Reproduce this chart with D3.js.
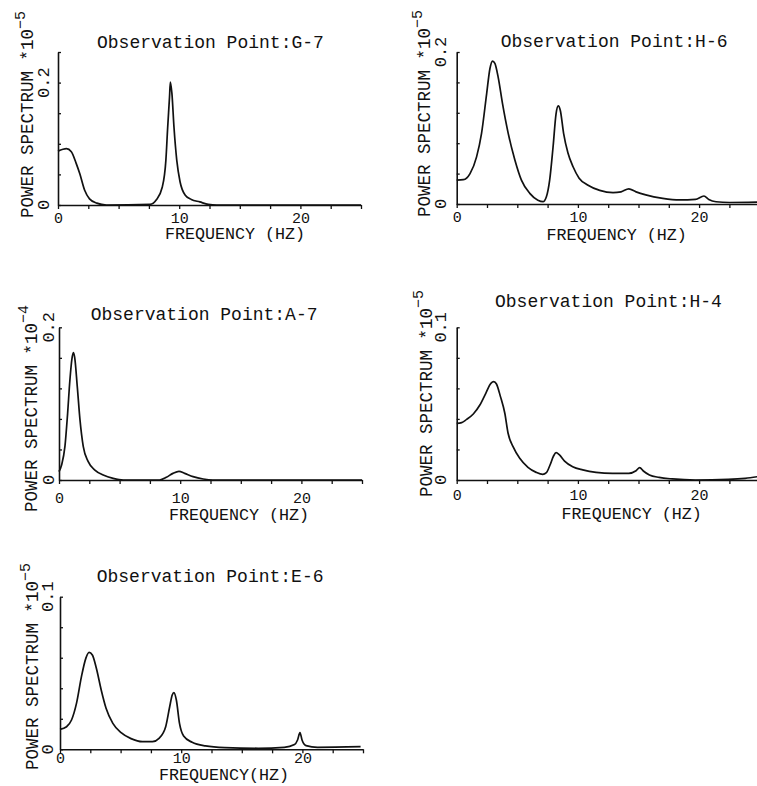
<!DOCTYPE html>
<html>
<head>
<meta charset="utf-8">
<script src="https://cdn.jsdelivr.net/npm/d3@7"></script>
<style>
  body { margin: 0; background: #fff; }
  text { font-family: "Liberation Mono", "Courier New", monospace; fill: #111; }
</style>
</head>
<body>
<div id="spectra"></div>
<script>
//------------------ DATA ------------------//
const titles = ["Observation Point:G-7", "Observation Point:H-6", "Observation Point:A-7",
                "Observation Point:H-4", "Observation Point:E-6"];
const exponents = ["-5", "-5", "-4", "-5", "-5"];
const xLabels = ["FREQUENCY (HZ)", "FREQUENCY (HZ)", "FREQUENCY (HZ)", "FREQUENCY (HZ)", "FREQUENCY(HZ)"];
const yMaxes = [0.25, 0.2, 0.2, 0.1, 0.1];
const yTickSteps = [0.05, 0.04, 0.04, 0.02, 0.02];
const yTickLabels = [[0, 0.2], [0, 0.2], [0, 0.2], [0, 0.1], [0, 0.1]];
const xTicks = [0, 2.5, 5, 7.5, 10, 12.5, 15, 17.5, 20, 22.5, 25];
const xTickLabels = [0, 10, 20];

// G-7
const g7Freq  = [0, 0.7, 1.1, 1.5, 1.8, 2.2, 2.6, 3.2, 4.0, 7.6, 8.1, 8.6, 8.9, 9.05, 9.2, 9.27, 9.4, 9.57, 9.8, 10.07, 10.5, 11.0, 11.7, 12.4, 13.1, 25];
const g7Power = [0.088, 0.092, 0.087, 0.068, 0.051, 0.024, 0.010, 0.003, 0, 0.001, 0.008, 0.029, 0.073, 0.127, 0.176, 0.201, 0.182, 0.127, 0.073, 0.038, 0.016, 0.009, 0.005, 0.001, 0, 0];

// H-6
const h6Freq  = [0, 0.55, 1.1, 1.64, 2.05, 2.47, 2.74, 2.96, 3.15, 3.42, 3.78, 4.25, 4.8, 5.34, 6.03, 6.7, 7.12, 7.4, 7.67, 7.95, 8.2, 8.38, 8.55, 8.82, 9.18, 9.6, 10.1, 10.8, 11.8, 12.9, 13.56, 14.2, 14.8, 15.6, 17.0, 18.4, 19.7, 20.4, 20.8, 21.4, 22.5, 25];
const h6Power = [0.0315, 0.032, 0.040, 0.062, 0.093, 0.145, 0.178, 0.188, 0.185, 0.167, 0.132, 0.093, 0.058, 0.0315, 0.014, 0.005, 0.003, 0.0096, 0.0315, 0.075, 0.119, 0.129, 0.123, 0.093, 0.067, 0.049, 0.034, 0.025, 0.018, 0.015, 0.016, 0.020, 0.016, 0.012, 0.0074, 0.0053, 0.006, 0.0105, 0.006, 0.003, 0.002, 0.0026];

// A-7
const a7Freq  = [0, 0.22, 0.49, 0.71, 0.9, 1.07, 1.18, 1.29, 1.51, 1.73, 2.0, 2.41, 2.96, 3.65, 4.47, 5.3, 8.3, 8.86, 9.4, 9.9, 10.37, 11.06, 11.9, 12.7, 25];
const a7Power = [0.011, 0.020, 0.044, 0.087, 0.131, 0.159, 0.167, 0.161, 0.122, 0.079, 0.044, 0.024, 0.013, 0.0066, 0.0022, 0, 0, 0.0035, 0.0087, 0.0114, 0.0087, 0.0044, 0.0013, 0, 0];

// H-4
const h4Freq  = [0, 0.41, 0.82, 1.37, 1.91, 2.4, 2.82, 3.06, 3.28, 3.61, 3.97, 4.24, 4.65, 5.2, 5.88, 6.56, 7.1, 7.4, 7.7, 7.99, 8.2, 8.48, 8.9, 9.57, 10.4, 11.5, 12.86, 14.2, 14.8, 15.1, 15.4, 15.9, 16.7, 17.8, 19.7, 22.4, 23.8, 25];
const h4Power = [0.0371, 0.0376, 0.0397, 0.0432, 0.0491, 0.0568, 0.0633, 0.0644, 0.0629, 0.0546, 0.0437, 0.0306, 0.0218, 0.0142, 0.0083, 0.0050, 0.0037, 0.0048, 0.0098, 0.0157, 0.0179, 0.0164, 0.0124, 0.0087, 0.0066, 0.0050, 0.0044, 0.0044, 0.0061, 0.0081, 0.0059, 0.0033, 0.0017, 0.0007, 0, 0.0004, 0.0011, 0.0024];

// E-6
const e6Freq  = [0, 0.54, 0.95, 1.36, 1.77, 2.13, 2.4, 2.67, 3.0, 3.4, 3.8, 4.36, 5.04, 5.86, 6.8, 7.63, 8.17, 8.72, 9.05, 9.26, 9.4, 9.6, 9.86, 10.2, 10.9, 12.0, 13.6, 16.35, 18.5, 19.35, 19.6, 19.8, 19.97, 20.3, 21.25, 24.8];
const e6Power = [0.0131, 0.0148, 0.0192, 0.0301, 0.0476, 0.0596, 0.0635, 0.0618, 0.0531, 0.0389, 0.0269, 0.0170, 0.0109, 0.0070, 0.0050, 0.0050, 0.0072, 0.0148, 0.0279, 0.0356, 0.0371, 0.0323, 0.0170, 0.0087, 0.0046, 0.0022, 0.0011, 0.0007, 0.0013, 0.0031, 0.0061, 0.0109, 0.0061, 0.0024, 0.0013, 0.0017];

const freqs  = [g7Freq, h6Freq, a7Freq, h4Freq, e6Freq];
const powers = [g7Power, h6Power, a7Power, h4Power, e6Power];

//------------------ LAYOUT ------------------//
// left/top/bottom = plot frame, the rest are label placements (px)
const layout = [
  { left: 58,    top: 52,    bottom: 205,   titleX: 97,    titleY: 48,    xLabX: 235,   xLabY: 239, tickDy: 18, yLabX: 33,    yLabY: 218, yTickOff: 9 },
  { left: 456.7, top: 52,    bottom: 204,   titleX: 500.7, titleY: 47,    xLabX: 616.7, xLabY: 240, tickDy: 18, yLabX: 430,   yLabY: 217, yTickOff: 11 },
  { left: 59,    top: 327.3, bottom: 480,   titleX: 90.7,  titleY: 320,   xLabX: 239,   xLabY: 520, tickDy: 23, yLabX: 36.5,  yLabY: 512, yTickOff: 5 },
  { left: 456.7, top: 327.3, bottom: 480,   titleX: 495,   titleY: 307,   xLabX: 631.7, xLabY: 519, tickDy: 20, yLabX: 431.7, yLabY: 497, yTickOff: 11 },
  { left: 60,    top: 596.7, bottom: 749.3, titleX: 96.7,  titleY: 581.7, xLabX: 224,   xLabY: 780, tickDy: 14, yLabX: 38,    yLabY: 770, yTickOff: 7 }
];
const pxPerHz = 12.12;

const svg = d3.select("#spectra")
  .append("svg")
  .attr("width", 757)
  .attr("height", 786);

function drawPanel(i) {
  const L = layout[i];
  const g = svg.append("g").attr("class", "panel");

  // scales
  const x = d3.scaleLinear()
    .domain([0, 25])
    .range([L.left, L.left + 25 * pxPerHz]);
  const y = d3.scaleLinear()
    .domain([0, yMaxes[i]])
    .range([L.bottom, L.top]);

  // x axis, ticks every 2.5 Hz pointing down
  const xAxis = g.append("g")
    .attr("transform", "translate(0," + L.bottom + ")")
    .call(d3.axisBottom(x)
      .tickValues(xTicks)
      .tickSize(4)
      .tickSizeOuter(0)
      .tickFormat(d => xTickLabels.includes(d) ? d : ""));
  xAxis.select(".domain").attr("stroke", "#111").attr("stroke-width", 1.6);
  xAxis.selectAll(".tick line").attr("stroke", "#111").attr("stroke-width", 1.3);
  xAxis.selectAll(".tick text")
    .attr("y", L.tickDy)
    .attr("dy", 0)
    .style("font-family", "'Liberation Mono', monospace")
    .style("font-size", "15px")
    .attr("fill", "#111");

  // y axis, ticks pointing inward
  const yTicks = d3.range(0, yMaxes[i] + 1e-9, yTickSteps[i]);
  const yAxis = g.append("g")
    .attr("transform", "translate(" + L.left + ",0)")
    .call(d3.axisLeft(y)
      .tickValues(yTicks)
      .tickSize(-3)
      .tickSizeOuter(0)
      .tickFormat(""));
  yAxis.select(".domain").attr("stroke", "#111").attr("stroke-width", 1.6);
  yAxis.selectAll(".tick line").attr("stroke", "#111").attr("stroke-width", 1.3);

  // rotated y tick labels
  g.selectAll(".ylab")
    .data(yTickLabels[i])
    .enter()
    .append("text")
    .attr("class", "ylab")
    .attr("transform", d => "translate(" + (L.left - L.yTickOff) + "," + y(d) + ") rotate(-90)")
    .style("text-anchor", "middle")
    .style("font-size", "17px")
    .text(d => d === 0 ? "0" : d3.format(".1f")(d));

  // spectrum curve
  const pts = freqs[i].map((f, k) => [f, powers[i][k]]);
  g.append("path")
    .datum(pts)
    .attr("fill", "none")
    .attr("stroke", "#111")
    .attr("stroke-width", 1.7)
    .attr("stroke-linejoin", "round")
    .attr("d", d3.line()
      .x(d => x(d[0]))
      .y(d => y(d[1]))
      .curve(d3.curveMonotoneX));

  // title
  g.append("text")
    .attr("x", L.titleX)
    .attr("y", L.titleY)
    .style("font-size", "18px")
    .text(titles[i]);

  // x label
  g.append("text")
    .attr("x", L.xLabX)
    .attr("y", L.xLabY)
    .style("text-anchor", "middle")
    .style("font-size", "16.7px")
    .text(xLabels[i]);

  // y label with exponent
  const yl = g.append("text")
    .attr("transform", "translate(" + L.yLabX + "," + L.yLabY + ") rotate(-90)")
    .style("font-size", "17.5px")
    .text("POWER SPECTRUM *10");
  yl.append("tspan")
    .attr("dy", "-0.55em")
    .style("font-size", "15px")
    .text(exponents[i].replace("-", "\u2212"));
}

for (let i = 0; i < titles.length; i++) drawPanel(i);
</script>
</body>
</html>
